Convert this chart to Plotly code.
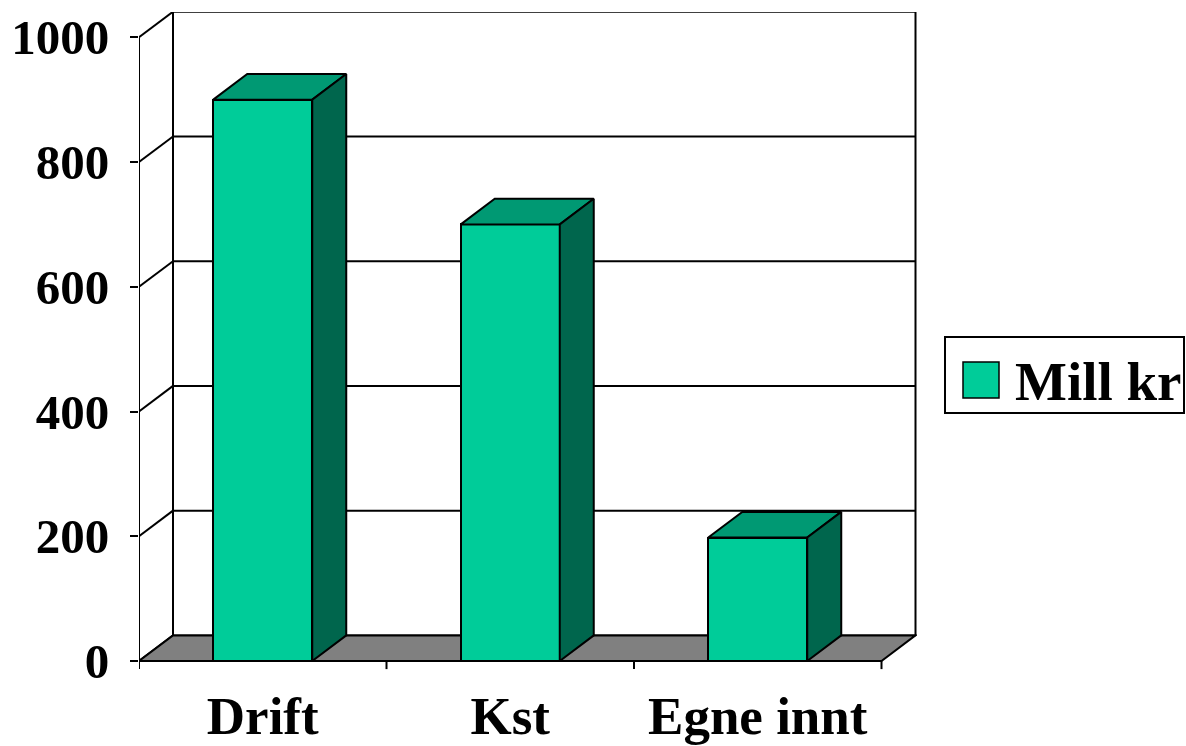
import plotly.graph_objects as go

# ---- data ----
categories = ["Drift", "Kst", "Egne innt"]
values = [900, 700, 198]
series_name = "Mill kr"
y_ticks = [0, 200, 400, 600, 800, 1000]

# ---- colours ----
FRONT = "#00CC99"
TOP = "#009973"
SIDE = "#00664D"
FLOOR = "#808080"
FONT = "Liberation Serif, Times New Roman, serif"

# ---- geometry (pixel layout of plot area) ----
W, H = 1186, 746
L, R, T, B = 139, 917, 12, 670
CAT_PX = 247.5          # px per category
PPU = 0.6237            # px per y unit
ZERO_PX = 661
n = len(categories)
x_range = [-0.5, -0.5 + (R - L) / CAT_PX]
y_top = (ZERO_PX - T) / PPU
y_range = [y_top - (B - T) / PPU, y_top]
DX = 34 / CAT_PX        # depth offset in x units
DY = 25.6 / PPU         # depth offset in y units
BW = 0.4                # bar width
ymax = max(y_ticks)
x0, x1 = -0.5, n - 0.5

fig = go.Figure()

# front faces of bars
fig.add_trace(go.Bar(
    x=list(range(n)), y=values, width=BW,
    marker=dict(color=FRONT, line=dict(color="black", width=2)),
    showlegend=False, hoverinfo="skip",
))

def poly(xs, ys, color):
    fig.add_trace(go.Scatter(
        x=xs + [xs[0]], y=ys + [ys[0]], mode="lines", fill="toself",
        fillcolor=color, line=dict(color="black", width=2),
        showlegend=False, hoverinfo="skip",
    ))

for i, v in enumerate(values):
    xl, xr = i - BW / 2, i + BW / 2
    # top face
    poly([xl, xr, xr + DX, xl + DX], [v, v, v + DY, v + DY], TOP)
    # side face
    poly([xr, xr, xr + DX, xr + DX], [0, v, v + DY, DY], SIDE)

# front axes
def line(xs, ys, w=2):
    fig.add_trace(go.Scatter(x=xs, y=ys, mode="lines",
                             line=dict(color="black", width=w),
                             showlegend=False, hoverinfo="skip"))

line([x0, x0], [0, ymax])
line([x0, x1], [0, 0])
tick_down = 13
for b in [k - 0.5 for k in range(n + 1)]:
    line([b, b], [0, -tick_down])

# walls & floor as shapes behind traces
shapes = []
for v in y_ticks:
    shapes.append(dict(type="line", xref="x", yref="y", layer="below",
                       x0=x0, y0=v, x1=x0 + DX, y1=v + DY,
                       line=dict(color="black", width=2)))
    shapes.append(dict(type="line", xref="x", yref="y", layer="below",
                       x0=x0 + DX, y0=v + DY, x1=x1 + DX, y1=v + DY,
                       line=dict(color="black", width=2)))
for xx in [x0 + DX, x1 + DX]:
    shapes.append(dict(type="line", xref="x", yref="y", layer="below",
                       x0=xx, y0=DY, x1=xx, y1=ymax + DY,
                       line=dict(color="black", width=2)))
shapes.append(dict(type="path", xref="x", yref="y", layer="below",
                   path=f"M {x0},0 L {x1},0 L {x1 + DX},{DY} L {x0 + DX},{DY} Z",
                   fillcolor=FLOOR, line=dict(color="black", width=2)))

# legend (manual), positions in paper coords
def px_x(p):
    return (p - L) / (R - L)

def px_y(p):
    return (B - p) / (B - T)

shapes.append(dict(type="rect", xref="paper", yref="paper",
                   x0=px_x(945), x1=px_x(1184), y0=px_y(413), y1=px_y(337),
                   line=dict(color="black", width=2), fillcolor="white"))
shapes.append(dict(type="rect", xref="paper", yref="paper",
                   x0=px_x(963), x1=px_x(999), y0=px_y(398), y1=px_y(362),
                   line=dict(color="black", width=1.5), fillcolor=FRONT))

fig.update_layout(
    width=W, height=H,
    margin=dict(l=L, r=W - R, t=T, b=H - B, pad=0, autoexpand=False),
    plot_bgcolor="white", paper_bgcolor="white",
    shapes=shapes,
    showlegend=False,
    bargap=0,
    annotations=[dict(text=series_name, xref="paper", yref="paper",
                      x=px_x(1013), y=px_y(381), xanchor="left", yanchor="middle",
                      showarrow=False,
                      font=dict(family=FONT, size=55, color="black", weight="bold"))],
    xaxis=dict(range=x_range, tickvals=list(range(n)), ticktext=categories,
               showgrid=False, zeroline=False, showline=False, ticks="",
               automargin=False,
               tickfont=dict(family=FONT, size=53, color="black", weight="bold"),
               ticklabelstandoff=10, fixedrange=True),
    yaxis=dict(range=y_range, tickvals=y_ticks, ticktext=[str(t) for t in y_ticks],
               showgrid=False, zeroline=False, showline=False,
               automargin=False,
               ticks="outside", ticklen=8, tickwidth=2, tickcolor="black",
               tickfont=dict(family=FONT, size=49, color="black", weight="bold"),
               ticklabelstandoff=11, fixedrange=True),
)

fig.write_html(
    "out.html",
    config={"displayModeBar": False},
    post_script="document.body.style.margin='0';document.body.style.overflow='hidden';",
)
